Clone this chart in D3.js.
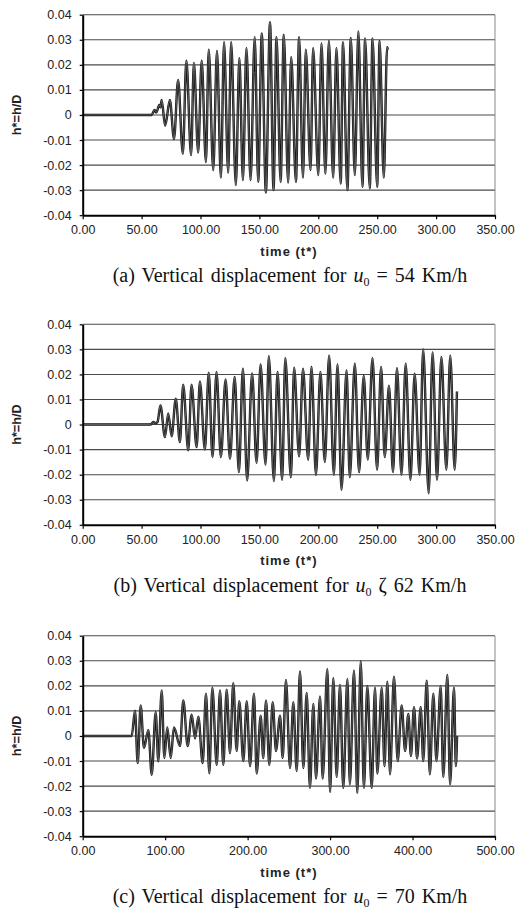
<!DOCTYPE html>
<html>
<head>
<meta charset="utf-8">
<script src="https://cdn.jsdelivr.net/npm/d3@7"></script>
<style>
body { margin: 0; background: #fff; }
</style>
</head>
<body>
<script>
// panel (a), u0 = 54 Km/h : time and h* values (peaks / troughs)
const timeA = [0, 58.5, 61, 62.5, 65, 66, 67, 70, 74, 77.5,
  81, 85, 88, 92, 94.4, 98, 101, 104.6, 107, 110.8,
  114, 117.3, 120, 123.5, 126, 130, 133, 136, 139, 142.5,
  146, 149, 152, 155.5, 159, 162, 164.5, 168, 170.7, 174.4,
  177, 181, 183.7, 187, 189.4, 193.4, 195.6, 200, 202.7, 206,
  209, 212.6, 215.4, 219, 221, 224.7, 227.6, 231, 234, 237.5,
  239.7, 243.7, 246, 250, 252, 255.6, 258.4, 259]
const hA = [0, 0, .002, .001, .004, .003, .006, -.0043, .006, -.0096,
  .014, -.0155, .0216, -.016, .0207, -.015, .0216, -.0188, .026, -.022,
  .0255, -.025, .029, -.023, .029, -.028, .0226, -.026, .0266, -.026,
  .031, -.0267, .0325, -.031, .037, -.030, .031, -.0267, .032, -.027,
  .023, -.0267, .031, -.025, .026, -.022, .0266, -.024, .0285, -.0234,
  .0295, -.025, .0266, -.0274, .029, -.030, .0307, -.024, .0333, -.0287,
  .0305, -.0293, .0305, -.0287, .0295, -.025, .027, .026]

// panel (b), u0 ~ 62 Km/h
const timeB = [0, 57.7, 60, 62, 63.5, 66, 69.8, 72.6, 75.5, 79,
  82.5, 85.3, 89.6, 92.4, 96.7, 99.5, 103.7, 107, 110.2, 113.6,
  117.3, 121.3, 125, 129, 132.6, 136, 139.6, 143.8, 147.6, 151,
  155.2, 158, 162.3, 165.4, 169.3, 172, 176.7, 179.5, 183.7, 187,
  191.4, 194.2, 198, 201.8, 205.5, 209.2, 213.2, 216.3, 219.7, 224,
  226.7, 231, 234.6, 238.6, 242, 246, 249.9, 253.3, 256.4, 260,
  263.4, 266.8, 270.6, 274.2, 278.2, 281.8, 286, 289, 293.7, 297,
  300.8, 304.5, 308.7, 312, 315.8, 317.7]
const hB = [0, 0, .001, .0005, .001, .0076, -.005, .0044, -.0047, .0103,
  -.007, .0159, -.0103, .0159, -.009, .0172, -.01, .0207, -.013, .021,
  -.013, .018, -.0137, .019, -.019, .0223, -.0223, .0204, -.0153, .024,
  -.016, .0273, -.0225, .021, -.022, .0265, -.021, .0227, -.0127, .0223,
  -.014, .023, -.02, .021, -.015, .0275, -.02, .024, -.026, .0216,
  -.021, .0243, -.019, .0195, -.014, .0265, -.018, .023, -.013, .0155,
  -.019, .0225, -.02, .0243, -.022, .0203, -.02, .030, -.0274, .0288,
  -.022, .027, -.018, .0275, -.018, .0132]

// panel (c), u0 = 70 Km/h
const timeC = [0, 59.4, 63.4, 66.7, 70.3, 74.3, 79.6, 83.7, 88.5, 91.7,
  95.8, 99, 102.6, 106.7, 110.7, 118, 122, 127.3, 132.2, 136.2,
  140.2, 145.5, 149.5, 153.6, 157.2, 162.5, 166.5, 170.5, 174.6, 178.6,
  182.6, 186.7, 189.9, 194.8, 198.9, 203, 207.7, 211, 215.8, 219,
  222.3, 226.3, 230.4, 234.4, 239.3, 242.5, 246.5, 251.4, 255.4, 259.5,
  263.5, 267.6, 271.6, 275.6, 279.7, 283, 287.8, 291, 296.7, 300,
  303.9, 308, 312, 316, 321, 324, 329, 333, 337.2, 341,
  345.2, 350.5, 354.5, 357.3, 362.6, 366, 369.4, 372.7, 377.5, 382,
  386.8, 391, 394.9, 398, 401.8, 405.5, 409.9, 413, 417.2, 421,
  425.2, 429, 434.1, 437.3, 442.2, 445.5, 450.3, 452.5, 454]
const hC = [0, 0, .0101, -.0108, .0122, -.0047, .0023, -.0155, .0095, -.0101,
  .0182, -.0088, .0034, -.0088, .0034, -.004, .0142, -.004, .0085, -.001,
  .0077, -.0108, .0169, -.0149, .0193, -.0115, .0182, -.0115, .0185, -.0068,
  .021, -.006, .0139, -.01, .0139, -.012, .0169, -.015, .0081, -.0088,
  .0142, -.0115, .0135, -.006, .0081, -.0088, .0223, -.0128, .0135, -.014,
  .0257, -.0128, .0172, -.0207, .0128, -.017, .0158, -.017, .0266, -.0223,
  .023, -.0163, .0203, -.0207, .0226, -.0193, .026, -.0227, .0297, -.0207,
  .0199, -.0207, .0193, -.015, .0193, -.012, .0216, -.0153, .0236, -.01,
  .0122, -.006, .0088, -.008, .0115, -.009, .0115, -.01, .022, -.0153,
  .0169, -.01, .0199, -.0163, .0243, -.0193, .0193, -.012, 0]

const xTicksAB = [0, 50, 100, 150, 200, 250, 300, 350]
const xTicksC = [0, 100, 200, 300, 400, 500]
const yTicks = [-0.04, -0.03, -0.02, -0.01, 0, 0.01, 0.02, 0.03, 0.04]
const captions = [
  {tag: "(a)", rel: "=", speed: "54"},
  {tag: "(b)", rel: "ζ", speed: "62"},
  {tag: "(c)", rel: "=", speed: "70"}
]

const width = 519, height = 919
const left = 82.7, right = 495, plotH = 200.5

const svg = d3.select("body")
    .append("svg")
    .attr("width", width)
    .attr("height", height)
    .style("font-family", "Liberation Sans, Arial, sans-serif")

const panels = [
  {time: timeA, h: hA, xMax: 350, xTicks: xTicksAB, top: 14.7, cap: captions[0]},
  {time: timeB, h: hB, xMax: 350, xTicks: xTicksAB, top: 324.3, cap: captions[1]},
  {time: timeC, h: hC, xMax: 500, xTicks: xTicksC, top: 635.7, cap: captions[2]}
]

panels.forEach(p => {
  const bottom = p.top + plotH
  const x = d3.scaleLinear().domain([0, p.xMax]).range([left, right])
  const y = d3.scaleLinear().domain([-0.04, 0.04]).range([bottom, p.top])
  const g = svg.append("g")

  // horizontal grid
  g.selectAll(".grid")
    .data(yTicks.filter(d => d > -0.04))
    .join("line")
    .attr("x1", left).attr("x2", right)
    .attr("y1", d => y(d)).attr("y2", d => y(d))
    .attr("stroke", "#4a4a4a")
    .attr("stroke-width", 1.1)

  g.append("line")
    .attr("x1", right).attr("x2", right)
    .attr("y1", p.top).attr("y2", bottom)
    .attr("stroke", "#8a8a8a")

  // series: smooth oscillation through the read peaks and troughs
  const pts = d3.zip(p.time, p.h)
  const line = d3.line().curve(d3.curveMonotoneX).x(d => x(d[0])).y(d => y(d[1]))
  g.append("path").datum(pts)
    .attr("d", line)
    .attr("fill", "none")
    .attr("stroke", "#151515")
    .attr("stroke-width", 2.4)
  g.append("path").datum(pts)
    .attr("d", line)
    .attr("fill", "none")
    .attr("stroke", "#8f8f8f")
    .attr("stroke-width", 0.6)

  const yAxis = g.append("g")
    .attr("transform", `translate(${left},0)`)
    .call(d3.axisLeft(y).tickValues(yTicks).tickSize(3).tickSizeOuter(0).tickPadding(8)
      .tickFormat(d => d === 0 ? "0" : d.toFixed(2)))
  const xAxis = g.append("g")
    .attr("transform", `translate(0,${bottom})`)
    .call(d3.axisBottom(x).tickValues(p.xTicks).tickSize(4).tickSizeOuter(0).tickPadding(6)
      .tickFormat(d => d.toFixed(2)))

  ;[yAxis, xAxis].forEach(a => {
    a.select(".domain").attr("stroke", "#000").attr("stroke-width", 2)
    a.selectAll(".tick line").attr("stroke", "#000").attr("stroke-width", 1.2)
    a.selectAll("text")
      .attr("fill", "#222")
      .style("font-size", "12.5px")
      .style("font-family", "Liberation Sans, Arial, sans-serif")
  })

  g.append("text")
    .attr("transform", `translate(17,${y(0)}) rotate(-90)`)
    .attr("text-anchor", "middle")
    .attr("dy", "0.35em")
    .style("font-size", "12.7px")
    .style("font-weight", "bold")
    .attr("fill", "#222")
    .text("h*=h/D")

  g.append("text")
    .attr("x", (left + right) / 2)
    .attr("y", bottom + 36)
    .attr("dy", "0.35em")
    .attr("text-anchor", "middle")
    .style("font-size", "13px")
    .style("font-weight", "bold")
    .style("letter-spacing", "1px")
    .attr("fill", "#222")
    .text("time (t*)")

  const cap = g.append("text")
    .attr("x", 290)
    .attr("y", bottom + 60)
    .attr("dy", "0.35em")
    .attr("text-anchor", "middle")
    .style("font-family", "Liberation Serif, Times New Roman, serif")
    .style("font-size", "20px")
    .style("word-spacing", "2px")
    .attr("fill", "#111")
  cap.append("tspan").text(`${p.cap.tag} Vertical displacement for `)
  cap.append("tspan").style("font-style", "italic").text("u")
  cap.append("tspan").attr("dy", 4).style("font-size", "12px").text("0")
  cap.append("tspan").attr("dy", -4).text(` ${p.cap.rel} ${p.cap.speed} Km/h`)
})
</script>
</body>
</html>
